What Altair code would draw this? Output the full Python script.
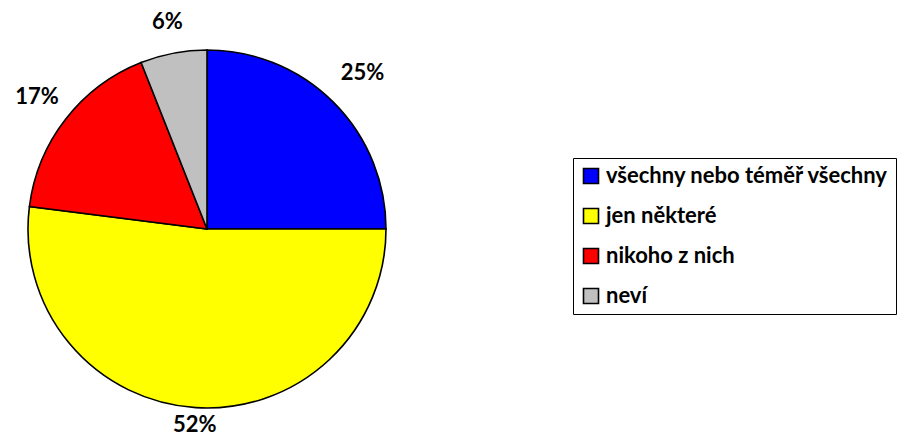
import altair as alt
import pandas as pd

categories = ["všechny nebo téměř všechny", "jen některé", "nikoho z nich", "neví"]
values = [25, 52, 17, 6]
labels = ["25%", "52%", "17%", "6%"]
colors = ["#0000FF", "#FFFF00", "#FF0000", "#C0C0C0"]

total = sum(values)

df = pd.DataFrame({
    "kategorie": categories,
    "hodnota": values,
    "popisek": labels,
    "poradi": list(range(len(categories))),
})

theta_scale = alt.Scale(domain=[0, total])
CX, CY = 199, 221

pie = alt.Chart(df).mark_arc(outerRadius=179, stroke="black", strokeWidth=1.6).encode(
    theta=alt.Theta("hodnota:Q", stack=True, scale=theta_scale),
    order=alt.Order("poradi:Q"),
    x=alt.value(CX),
    y=alt.value(CY),
    color=alt.Color(
        "kategorie:N",
        scale=alt.Scale(domain=categories, range=colors),
        legend=alt.Legend(
            title=None,
            orient="none",
            legendX=565,
            legendY=150,
            strokeColor="black",
            fillColor="white",
            padding=7,
            symbolType="square",
            symbolSize=225,
            symbolStrokeColor="black",
            symbolStrokeWidth=1.6,
            symbolOpacity=1,
            labelFont="Lato",
            labelFontWeight="bold",
            labelFontSize=22,
            labelColor="black",
            rowPadding=18,
            labelOffset=4,
            labelLimit=800,
        ),
    ),
)

text_style = dict(font="Lato", fontWeight="bold", fontSize=22, color="black",
                  align="center", baseline="middle")

text_base = alt.Chart(df).transform_window(
    kum="sum(hodnota)", sort=[alt.SortField("poradi")]
).transform_calculate(
    stred="datum.kum - datum.hodnota / 2"
).encode(
    theta=alt.Theta("stred:Q", stack=None, scale=theta_scale),
    x=alt.value(CX),
    y=alt.value(CY),
    text="popisek:N",
)


def label_layer(names, radius):
    return text_base.transform_filter(
        alt.FieldOneOfPredicate(field="popisek", oneOf=names)
    ).mark_text(radius=radius, **text_style)


layers = [
    pie,
    label_layer(["25%"], 220),
    label_layer(["6%"], 211),
    label_layer(["17%"], 215),
    label_layer(["52%"], 196),
]

chart = alt.layer(*layers).properties(
    width=890,
    height=429,
    autosize=alt.AutoSizeParams(type="none"),
    padding=0,
).configure_view(stroke=None)

chart.save("out.html", embed_options={"renderer": "svg", "actions": False})
